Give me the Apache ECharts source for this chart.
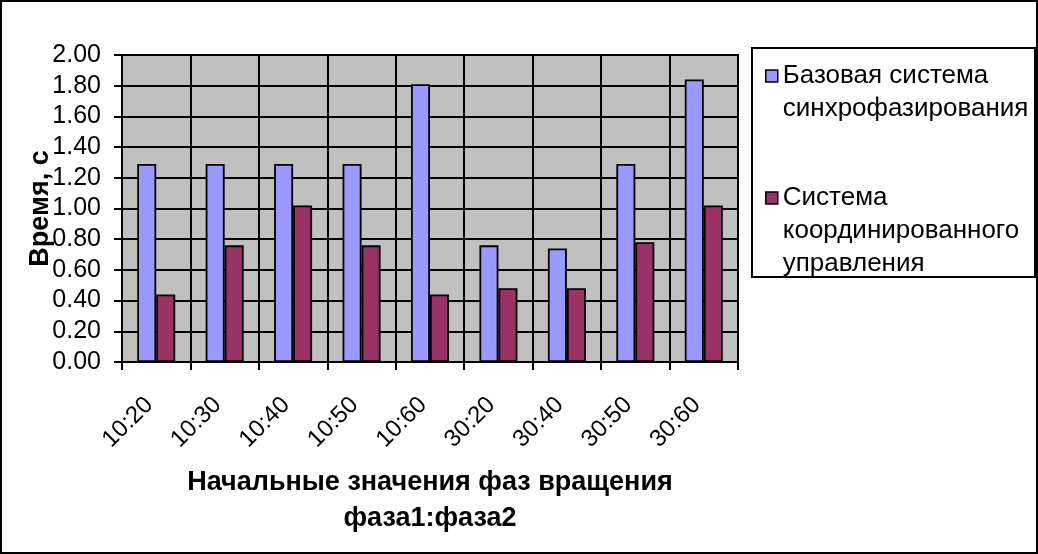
<!DOCTYPE html>
<html>
<head>
<meta charset="utf-8">
<script src="https://cdn.jsdelivr.net/npm/echarts@6/dist/echarts.min.js"></script>
<style>
  html, body { margin: 0; padding: 0; background: #fff; }
  #chart { width: 1038px; height: 554px; }
</style>
</head>
<body>
<div id="chart"></div>
<script>
// Phase start pairs (phase1:phase2)
const categories = ['10:20', '10:30', '10:40', '10:50', '10:60', '30:20', '30:40', '30:50', '30:60'];
// Synchronisation time, seconds
const baseSystem = [1.29, 1.29, 1.29, 1.29, 1.81, 0.76, 0.74, 1.29, 1.84];
const coordSystem = [0.44, 0.76, 1.02, 0.76, 0.44, 0.48, 0.48, 0.78, 1.02];
const seriesNames = ['Базовая система\nсинхрофазирования', 'Система\nкоординированного\nуправления'];

const FONT = "'Liberation Sans', Arial, sans-serif";
const LINE_H = 33;

const chart = echarts.init(document.getElementById('chart'), null, { renderer: 'canvas' });

// One legend block per series; leading blank lines keep the marker
// level with the first line of a multi-line name.
function legendBlock(name, firstLineY) {
  const lines = name.split('\n').length;
  const total = 2 * lines - 1;
  return {
    show: true,
    orient: 'vertical',
    left: 765,
    top: firstLineY - total * LINE_H / 2,
    padding: 0,
    selectedMode: false,
    icon: 'rect',
    itemWidth: 12,
    itemHeight: 12,
    itemStyle: { borderColor: '#000', borderWidth: 1.5 },
    data: [name],
    formatter: n => '\n'.repeat(lines - 1) + n,
    textStyle: {
      fontFamily: FONT,
      fontSize: 26,
      color: '#000',
      lineHeight: LINE_H
    }
  };
}

const option = {
  animation: false,
  backgroundColor: '#fff',
  graphic: [
    { type: 'rect', shape: { x: 1, y: 1, width: 1036, height: 552 },
      style: { fill: 'none', stroke: '#000', lineWidth: 2 }, z: 0 },
    { type: 'rect', shape: { x: 752, y: 48, width: 283, height: 229 },
      style: { fill: '#fff', stroke: '#000', lineWidth: 2 }, z: 0 }
  ],
  legend: [
    legendBlock(seriesNames[0], 76),
    legendBlock(seriesNames[1], 198)
  ],
  grid: {
    left: 122, top: 55, width: 616, height: 307,
    outerBoundsMode: 'none',
    containLabel: false,
    show: true,
    backgroundColor: '#C0C0C0',
    borderColor: '#000',
    borderWidth: 2
  },
  xAxis: {
    type: 'category',
    data: categories,
    boundaryGap: true,
    axisLine: { lineStyle: { color: '#000', width: 2 } },
    axisTick: { show: true, length: 8, lineStyle: { color: '#000', width: 2 } },
    splitLine: { show: true, lineStyle: { color: '#000', width: 2 } },
    axisLabel: {
      rotate: 45,
      margin: 32,
      padding: [0, 10, 0, 0],
      fontFamily: FONT,
      fontSize: 24,
      color: '#000'
    },
    name: 'Начальные значения фаз вращения\nфаза1:фаза2',
    nameLocation: 'middle',
    nameGap: 103,
    nameMoveOverlap: false,
    nameTextStyle: {
      fontFamily: FONT,
      fontSize: 27,
      fontWeight: 'bold',
      color: '#000',
      lineHeight: 36
    }
  },
  yAxis: {
    type: 'value',
    min: 0,
    max: 2,
    interval: 0.2,
    axisLine: { show: true, lineStyle: { color: '#000', width: 2 } },
    axisTick: { show: true, length: 8, lineStyle: { color: '#000', width: 2 } },
    splitLine: { show: true, lineStyle: { color: '#000', width: 2 } },
    axisLabel: {
      margin: 21,
      fontFamily: FONT,
      fontSize: 25,
      color: '#000',
      formatter: v => v.toFixed(2)
    },
    name: 'Время, с',
    nameLocation: 'middle',
    nameRotate: 90,
    nameGap: 68,
    nameMoveOverlap: false,
    nameTextStyle: {
      fontFamily: FONT,
      fontSize: 27,
      fontWeight: 'bold',
      color: '#000'
    }
  },
  series: [
    {
      name: seriesNames[0],
      type: 'bar',
      data: baseSystem,
      barWidth: 19,
      barGap: '0%',
      itemStyle: { color: '#9999FF', borderColor: '#000', borderWidth: 1.8 }
    },
    {
      name: seriesNames[1],
      type: 'bar',
      data: coordSystem,
      barWidth: 19,
      barGap: '0%',
      itemStyle: { color: '#993366', borderColor: '#000', borderWidth: 1.8 }
    }
  ]
};

chart.setOption(option);
</script>
</body>
</html>
